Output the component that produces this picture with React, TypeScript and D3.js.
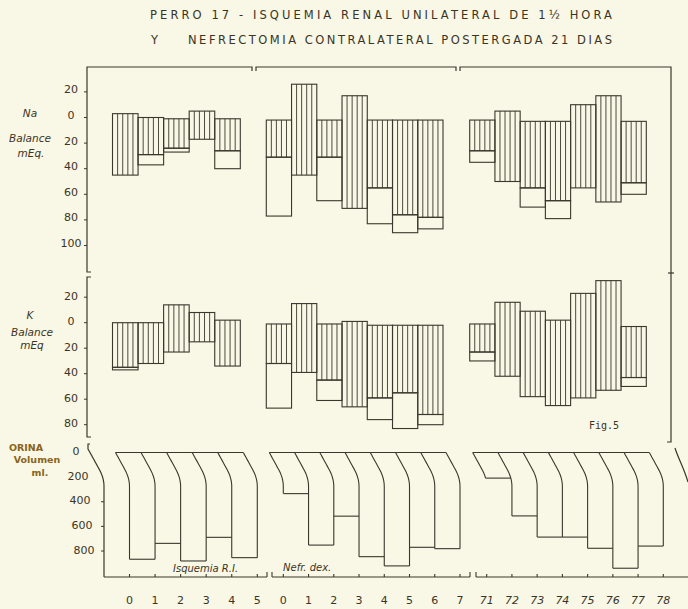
import * as d3 from "d3";

// Perro 17 - balance chart (Na, K, urine volume)
const titleLine1 = "PERRO 17 - ISQUEMIA RENAL UNILATERAL DE 1½ HORA";
const titleLine2a = "Y";
const titleLine2b = "NEFRECTOMIA CONTRALATERAL POSTERGADA 21 DIAS";

const daysG1 = [0, 1, 2, 3, 4, 5];
const daysG2 = [0, 1, 2, 3, 4, 5, 6, 7];
const daysG3 = [71, 72, 73, 74, 75, 76, 77, 78];
const groupLabels = ["Isquemia  R.I.", "Nefr.  dex.", ""];

// Na balance (mEq): top of hatched bar, bottom of hatched bar, bottom of open bar (null = none)
const naTopG1 = [3, 0, -1, 5, -1];
const naHatchG1 = [-45, -29, -24, -17, -26];
const naOpenG1 = [null, -37, -27, null, -40];
const naTopG2 = [-2, 26, -2, 17, -2, -2, -2];
const naHatchG2 = [-31, -45, -31, -71, -55, -76, -78];
const naOpenG2 = [-77, null, -65, null, -83, -90, -87];
const naTopG3 = [-2, 5, -3, -3, 10, 17, -3];
const naHatchG3 = [-26, -50, -55, -65, -55, -66, -51];
const naOpenG3 = [-35, null, -70, -79, null, null, -60];

// K balance (mEq)
const kTopG1 = [0, 0, 14, 8, 2];
const kHatchG1 = [-35, -32, -23, -15, -34];
const kOpenG1 = [-37, null, null, null, null];
const kTopG2 = [-1, 15, -1, 1, -2, -2, -2];
const kHatchG2 = [-32, -39, -45, -66, -59, -55, -72];
const kOpenG2 = [-67, null, -61, null, -76, -83, -80];
const kTopG3 = [-1, 16, 9, 2, 23, 33, -3];
const kHatchG3 = [-23, -42, -58, -65, -59, -53, -43];
const kOpenG3 = [-30, null, null, null, null, null, -50];

// Urine volume (ml)
const urineG1 = [867, 738, 881, 689, 854];
const urineG2 = [334, 752, 517, 846, 921, 770, 781];
const urineG3 = [208, 515, 687, 687, 778, 940, 760];

const naTicks = [20, 0, -20, -40, -60, -80, -100];
const kTicks = [20, 0, -20, -40, -60, -80];
const urineTicks = [0, 200, 400, 600, 800];

const INK = "#38382d";
const TEXT = "#3a3424";
const BG = "#f9f7e5";

const yNa = d3.scaleLinear().domain([0, -100]).range([117.5, 245.5]);
const yK = d3.scaleLinear().domain([0, -80]).range([322.7, 424.7]);
const yU = d3.scaleLinear().domain([0, 800]).range([452.5, 551]);

const xG1 = d3.scaleLinear().domain([0, 5]).range([129.5, 257.3]);
const xG2 = d3.scaleLinear().domain([0, 7]).range([283.3, 460]);
const xG3 = d3.scaleLinear().domain([71, 78]).range([486.7, 663.3]);

const groups = [
  { x: xG1, days: daysG1, na: [naTopG1, naHatchG1, naOpenG1], k: [kTopG1, kHatchG1, kOpenG1], urine: urineG1, label: groupLabels[0] },
  { x: xG2, days: daysG2, na: [naTopG2, naHatchG2, naOpenG2], k: [kTopG2, kHatchG2, kOpenG2], urine: urineG2, label: groupLabels[1] },
  { x: xG3, days: daysG3, na: [naTopG3, naHatchG3, naOpenG3], k: [kTopG3, kHatchG3, kOpenG3], urine: urineG3, label: groupLabels[2] },
];

const SHIFT = -17; // balance bars sit left of the urine columns
const SLANT = 14;
const SLANT_H = 34;

// straight slant that bends into the vertical near its lower end
const slantOff = (depth: number) => {
  if (depth >= SLANT_H) return 0;
  const t = depth / SLANT_H;
  const a = 0.5;
  const k = 2 / (1 + a);
  const c = k / (2 * (1 - a));
  return SLANT * (t < a ? 1 - k * t : c * (1 - t) * (1 - t));
};

function BalanceBars({ g, y, vals }: any) {
  const [tops, hatches, opens] = vals;
  return (
    <g>
      {tops.map((t: number, i: number) => {
        const x0 = g.x(g.days[i]) + SHIFT;
        const x1 = g.x(g.days[i + 1]) + SHIFT;
        const yt = y(t);
        const yh = y(hatches[i]);
        const w = x1 - x0;
        return (
          <g key={i}>
            {opens[i] != null && (
              <rect x={x0} y={yh} width={w} height={y(opens[i]) - yh} fill="none" stroke={INK} strokeWidth={1.1} />
            )}
            <rect x={x0} y={yt} width={w} height={yh - yt} fill="none" stroke={INK} strokeWidth={1.1} />
            {d3.range(1, 5).map((k) => (
              <line key={k} x1={x0 + (k * w) / 5} x2={x0 + (k * w) / 5} y1={yt} y2={yh} stroke={INK} strokeWidth={0.9} />
            ))}
          </g>
        );
      })}
    </g>
  );
}

function UrineBars({ g }: any) {
  const top = yU(0);
  const line = d3.line<[number, number]>();
  const n = g.urine.length;
  const edges = d3.range(0, n + 1).map((i) => {
    const prev = i > 0 ? g.urine[i - 1] : 0;
    const cur = i < n ? g.urine[i] : 0;
    const yEnd = yU(Math.max(prev, cur));
    const xb = g.x(g.days[i]);
    const pts: [number, number][] = d3
      .range(0, 41)
      .map((s) => top + ((yEnd - top) * s) / 40)
      .map((yy) => [xb - slantOff(yy - top), yy]);
    return line(pts);
  });
  return (
    <g fill="none" stroke={INK} strokeWidth={1.1}>
      <line x1={g.x(g.days[0]) - SLANT} x2={g.x(g.days[n]) - SLANT} y1={top} y2={top} />
      {edges.map((p, i) => (
        <path key={i} d={p as string} />
      ))}
      {g.urine.map((v: number, i: number) => {
        const yb = yU(v);
        const off = slantOff(yb - top);
        return <line key={i} x1={g.x(g.days[i]) - off} x2={g.x(g.days[i + 1]) - off} y1={yb} y2={yb} />;
      })}
    </g>
  );
}

export default function App() {
  const axisY = 577;
  const uAxisX = 104;
  const uAxisPts: [number, number][] = d3
    .range(0, 41)
    .map((s) => yU(0) + (SLANT_H * s) / 40)
    .map((yy) => [uAxisX - slantOff(yy - yU(0)), yy]);
  const uAxisPath = "M90,444 L88,444 L88,449 " + d3.line()(uAxisPts)!.replace("M", "L") + ` L${uAxisX},${axisY}`;

  const bottomAxes = [
    { x0: uAxisX, x1: 267, capStart: false, capEnd: true },
    { x0: 272, x1: 470, capStart: true, capEnd: true },
    { x0: 476, x1: 688, capStart: true, capEnd: false },
  ];

  return (
    <svg width={688} height={609} style={{ position: "absolute", left: 0, top: 0, background: BG }}>
      <rect width={688} height={609} fill={BG} />

      {/* title */}
      <g fill={TEXT} fontFamily="DejaVu Sans, sans-serif" fontSize={11.5}>
        <text x={150} y={19} textLength={462} lengthAdjust="spacing">{titleLine1}</text>
        <text x={151} y={44}>{titleLine2a}</text>
        <text x={188} y={44} textLength={424} lengthAdjust="spacing">{titleLine2b}</text>
      </g>

      {/* frame of the balance panels */}
      <g fill="none" stroke={INK} strokeWidth={1.2}>
        <path d="M91,272 L87,272 L87,67 L252,67 L252,71" />
        <path d="M256,71 L256,67 L456,67 L456,71" />
        <path d="M460,71 L460,67 L671,67 L671,442 L667,442" />
        <path d="M668,273 L674,273" />
        <path d="M91,277 L87,277 L87,437 L91,437" />
        <path d="M675,448 C678,458 684,468 688,482" />
        <path d={uAxisPath} />
      </g>

      {/* y axis ticks and labels */}
      <g stroke={INK} strokeWidth={1}>
        {naTicks.map((t) => (
          <line key={"n" + t} x1={84} x2={87} y1={yNa(t)} y2={yNa(t)} />
        ))}
        {kTicks.map((t) => (
          <line key={"k" + t} x1={84} x2={87} y1={yK(t)} y2={yK(t)} />
        ))}
        {urineTicks.filter((t) => yU(t) - yU(0) > SLANT_H).map((t) => (
          <line key={"u" + t} x1={101} x2={104} y1={yU(t)} y2={yU(t)} />
        ))}
      </g>
      <g fill={TEXT} fontFamily="DejaVu Sans, sans-serif" fontSize={11} textAnchor="middle" dominantBaseline="central">
        {naTicks.map((t) => (
          <text key={"n" + t} x={71} y={yNa(t) - 2}>{Math.abs(t)}</text>
        ))}
        {kTicks.map((t) => (
          <text key={"k" + t} x={71} y={yK(t) - 1}>{Math.abs(t)}</text>
        ))}
        {urineTicks.map((t, i) => (
          <text key={"u" + t} x={76 + i * 2} y={yU(t) - 1}>{t}</text>
        ))}
      </g>

      {/* panel titles */}
      <g fill={TEXT} fontFamily="DejaVu Sans, sans-serif" fontSize={10.5} fontStyle="italic" textAnchor="middle">
        <text x={30} y={117}>Na</text>
        <text x={30} y={142}>Balance</text>
        <text x={31} y={157}>mEq.</text>
        <text x={30} y={319}>K</text>
        <text x={32} y={336}>Balance</text>
        <text x={32} y={349}>mEq</text>
      </g>
      <g fill="#8a6418" fontFamily="DejaVu Sans, sans-serif" fontSize={9.5} fontWeight="bold" textAnchor="middle">
        <text x={26} y={451}>ORINA</text>
        <text x={37} y={463}>Volumen</text>
        <text x={40} y={476}>ml.</text>
      </g>

      {groups.map((g, gi) => (
        <g key={gi}>
          <BalanceBars g={g} y={yNa} vals={g.na} />
          <BalanceBars g={g} y={yK} vals={g.k} />
          <UrineBars g={g} />
        </g>
      ))}

      {/* bottom day axes */}
      <g fill="none" stroke={INK} strokeWidth={1.1}>
        {bottomAxes.map((a, i) => (
          <g key={i}>
            <line x1={a.x0} x2={a.x1} y1={axisY} y2={axisY} />
            {a.capStart && <line x1={a.x0} x2={a.x0} y1={axisY} y2={axisY - 5} />}
            {a.capEnd && <line x1={a.x1} x2={a.x1} y1={axisY} y2={axisY - 5} />}
          </g>
        ))}
        {groups.map((g, gi) =>
          g.days.map((d) => <line key={gi + "-" + d} x1={g.x(d)} x2={g.x(d)} y1={axisY} y2={axisY - 3} />)
        )}
      </g>
      <g fill={TEXT} fontFamily="DejaVu Sans, sans-serif" fontSize={11} textAnchor="middle">
        {groups.map((g, gi) =>
          g.days.map((d) => (
            <text key={gi + "-" + d} x={g.x(d)} y={604} fontStyle={gi === 2 ? "italic" : "normal"}>
              {d}
            </text>
          ))
        )}
      </g>
      <g fill={TEXT} fontFamily="DejaVu Sans, sans-serif" fontSize={10} fontStyle="italic">
        <text x={173} y={572}>{groups[0].label}</text>
        <text x={283} y={571}>{groups[1].label}</text>
      </g>

      <text x={589} y={429} fill={TEXT} fontFamily="DejaVu Sans Mono, monospace" fontSize={10}>
        Fig.5
      </text>
    </svg>
  );
}
